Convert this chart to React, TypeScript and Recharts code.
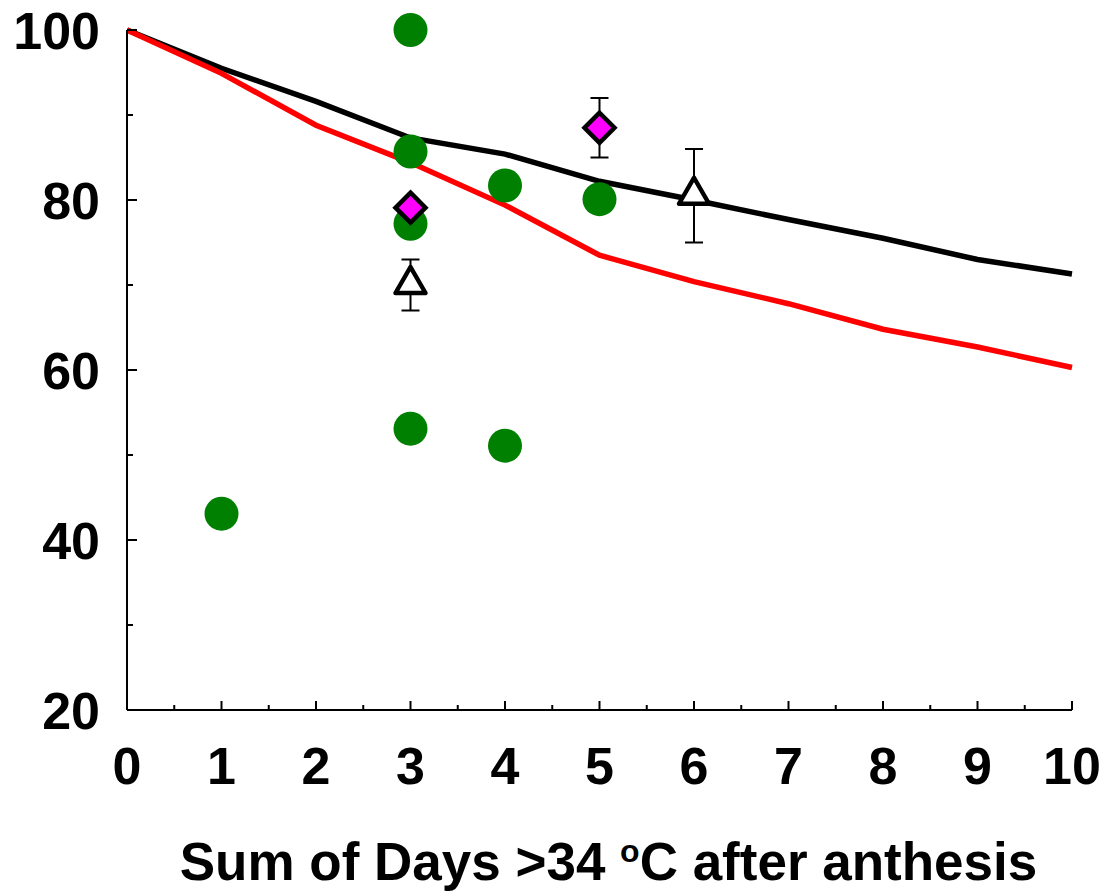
import React from "react";
import { ComposedChart, Line, Scatter, XAxis, YAxis, ErrorBar, Label } from "recharts";

// model curves
const days = [0, 1, 2, 3, 4, 5, 6, 7, 8, 9, 10];
const blackCurve = [100, 95.5, 91.6, 87.3, 85.4, 82.2, 80.0, 77.7, 75.5, 73.0, 71.3];
const redCurve = [100, 94.9, 88.8, 84.4, 79.4, 73.5, 70.4, 67.8, 64.8, 62.7, 60.3];

// observations
const circleX = [1, 3, 3, 3, 3, 4, 4, 5];
const circleY = [43.1, 100, 85.7, 77.2, 53.1, 81.7, 51.1, 80.1];
const diamondX = [3, 5];
const diamondY = [79.1, 88.5];
const diamondErr = [0, 3.5];
const triangleX = [3, 6];
const triangleY = [70.0, 80.5];
const triangleErr = [3.0, 5.5];

const xTicks = [0, 0.5, 1, 1.5, 2, 2.5, 3, 3.5, 4, 4.5, 5, 5.5, 6, 6.5, 7, 7.5, 8, 8.5, 9, 9.5, 10];
const yTicks = [20, 30, 40, 50, 60, 70, 80, 90, 100];

const lineData = days.map((x, i) => ({ x, black: blackCurve[i], red: redCurve[i] }));
const circles = circleX.map((x, i) => ({ x, y: circleY[i] }));
const diamonds = diamondX.map((x, i) => ({ x, y: diamondY[i], err: diamondErr[i] }));
const triangles = triangleX.map((x, i) => ({ x, y: triangleY[i], err: triangleErr[i] }));

const font = "'Liberation Sans', Arial, sans-serif";

const YTick = (props: any) => {
  const { x, y, payload } = props;
  const v = payload.value;
  const major = v % 20 === 0;
  return (
    <g>
      <line x1={x} x2={x + (major ? 10 : 6)} y1={y} y2={y} stroke="#000" strokeWidth={2} />
      {major && (
        <text x={x - 27} y={y} dy={18.5} textAnchor="end" fontFamily={font} fontWeight="bold" fontSize={52} fill="#000">
          {v}
        </text>
      )}
    </g>
  );
};

const XTick = (props: any) => {
  const { x, y, payload } = props;
  const v = payload.value;
  const major = Number.isInteger(v);
  return (
    <g>
      <line x1={x} x2={x} y1={y} y2={y - (major ? 9 : 5)} stroke="#000" strokeWidth={2} />
      {major && (
        <text x={x} y={y + 74} textAnchor="middle" fontFamily={font} fontWeight="bold" fontSize={52} fill="#000">
          {v}
        </text>
      )}
    </g>
  );
};

const Title = (props: any) => {
  const vb = props.viewBox;
  return (
    <text
      x={vb.x + vb.width / 2 + 9}
      y={vb.y + 170}
      textAnchor="middle"
      fontFamily={font}
      fontWeight="bold"
      fontSize={53}
      fill="#000"
    >
      Sum of Days &gt;34{" "}
      <tspan fontSize={32} dy={-18}>o</tspan>
      <tspan dy={18}>C after anthesis</tspan>
    </text>
  );
};

const Dot = (p: any) => <circle cx={p.cx} cy={p.cy} r={17} fill="#008000" />;

const Diamond = (p: any) => (
  <path
    d={`M${p.cx},${p.cy - 15} L${p.cx + 15},${p.cy} L${p.cx},${p.cy + 15} L${p.cx - 15},${p.cy} Z`}
    fill="#ff00ff"
    stroke="#000"
    strokeWidth={4.5}
    strokeLinejoin="miter"
  />
);

const Triangle = (p: any) => (
  <path
    d={`M${p.cx},${p.cy - 18} L${p.cx + 15},${p.cy + 8} L${p.cx - 15},${p.cy + 8} Z`}
    fill="#fff"
    stroke="#000"
    strokeWidth={4.5}
    strokeLinejoin="round"
  />
);

export default function App() {
  return (
    <div style={{ position: "absolute", left: 0, top: 0, background: "#fff" }}>
      <ComposedChart width={1104} height={896} data={lineData} margin={{ top: 30, right: 32, left: 0, bottom: 0 }}>
        <XAxis
          dataKey="x"
          type="number"
          domain={[0, 10]}
          ticks={xTicks}
          interval={0}
          height={186}
          tickSize={0}
          tickMargin={0}
          tick={<XTick />}
          axisLine={{ stroke: "#000", strokeWidth: 2 }}
        >
          <Label content={<Title />} />
        </XAxis>
        <YAxis
          type="number"
          domain={[20, 100]}
          ticks={yTicks}
          interval={0}
          width={127}
          tickSize={0}
          tickMargin={0}
          tick={<YTick />}
          axisLine={{ stroke: "#000", strokeWidth: 2 }}
        />
        <Scatter data={circles} dataKey="y" shape={<Dot />} isAnimationActive={false} />
        <Line dataKey="black" stroke="#000" strokeWidth={5.5} dot={false} isAnimationActive={false} />
        <Line dataKey="red" stroke="#ff0000" strokeWidth={5.5} dot={false} isAnimationActive={false} />
        <Scatter data={diamonds} dataKey="y" shape={<Diamond />} isAnimationActive={false}>
          <ErrorBar dataKey="err" direction="y" width={9} stroke="#000" strokeWidth={2} />
        </Scatter>
        <Scatter data={triangles} dataKey="y" shape={<Triangle />} isAnimationActive={false}>
          <ErrorBar dataKey="err" direction="y" width={9} stroke="#000" strokeWidth={2} />
        </Scatter>
      </ComposedChart>
    </div>
  );
}
